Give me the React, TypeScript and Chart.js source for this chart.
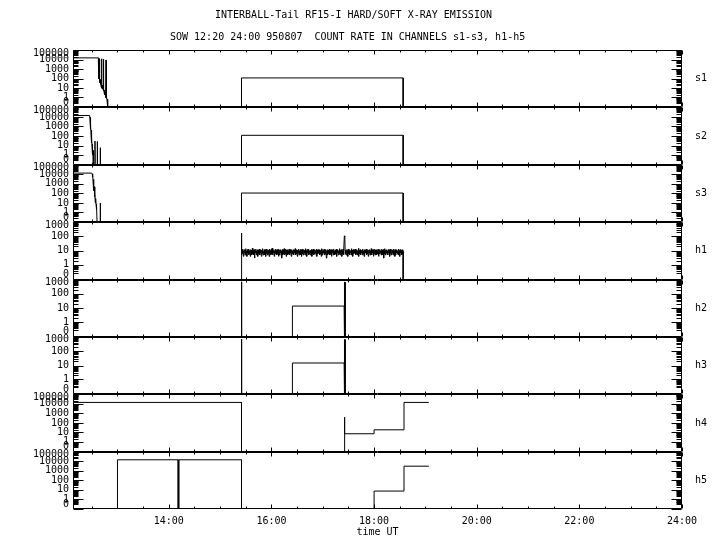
import React, { useEffect, useRef } from 'react';
import { Chart, registerables, LinearScale } from 'chart.js';

Chart.register(...registerables);

// ---------------- data ----------------
const titleLine1 = 'INTERBALL-Tail RF15-I HARD/SOFT X-RAY EMISSION';
const titleLine2 = 'SOW 12:20 24:00 950807  COUNT RATE IN CHANNELS s1-s3, h1-h5';
const xTitle = 'time UT';

const panelNames = ['s1', 's2', 's3', 'h1', 'h2', 'h3', 'h4', 'h5'];
const panelMax = [100000, 100000, 100000, 1000, 1000, 1000, 100000, 100000];

// time axis in minutes of day
const xMin = 728;
const xMax = 1440;
const xMajorTicks = [840, 960, 1080, 1200, 1320, 1440];
const xMinorTicks = [750, 780, 810, 870, 900, 930, 990, 1020, 1050, 1110, 1140, 1170, 1230, 1260, 1290, 1350, 1380, 1410];

// s1
const s1T = [728, 757.6, 757.8, 758.0, 758.3, 758.5, 758.8, 759.1, 759.4, 759.7, 760.0, 760.4, 760.8, 761.2, 761.6, 761.9, 762.3, 762.7, 763.1, 763.4, 763.7, 764.1, 764.5, 764.9, 765.3, 765.7, 766.1, 766.6, 766.9, 767.3, 767.8, 768.3, 768.9, 925, 925, 1114, 1114];
const s1V = [15000, 15000, 300, 14000, 100, 12000, 60, 5000, 40, 80, 25, 50, 15, 30, 12000, 10, 20, 8, 15, 11000, 5, 10, 3, 6, 2, 4, 1, 9000, 0.8, 1.5, 0.4, 0.6, 0, 0, 120, 120, 0];
// s2
const s2T = [728, 747.1, 747.5, 747.9, 748.2, 748.5, 748.8, 749.1, 749.4, 749.7, 750.0, 750.3, 750.6, 751.0, 751.4, 751.8, 753.7, 753.7, 753.9, 756.4, 756.4, 756.6, 759.9, 759.9, 760.1, 925, 925, 1114, 1114];
const s2V = [14000, 14000, 13000, 3000, 9000, 500, 2000, 100, 400, 20, 80, 5, 15, 1, 3, 0, 0, 30, 0, 0, 27, 0, 0, 6, 0, 0, 120, 120, 0];
// s3
const s3T = [728, 749.9, 750.4, 750.8, 751.2, 751.6, 752.0, 752.4, 752.8, 753.2, 753.7, 754.1, 754.5, 754.9, 755.3, 755.7, 756.1, 759.9, 759.9, 760.1, 925, 925, 1114, 1114];
const s3V = [13400, 13400, 11000, 5000, 8000, 1000, 3000, 200, 500, 40, 90, 10, 30, 8, 2, 5, 0, 0, 10, 0, 0, 110, 110, 0];
// h1 (edges + half-minute band)
const h1LeadT = [728, 925, 925];
const h1LeadV = [0, 0, 174];
const h1BandStart = 925.25;
const h1BandStep = 0.5;
const h1BandV = [
  5, 11, 6, 13, 4, 10, 7, 12, 5, 14, 6, 9, 4, 12, 7, 11, 5, 13, 6, 10,
  4, 12, 7, 11, 5, 15, 6, 10, 5, 12, 3, 11, 7, 13, 5, 10, 6, 12, 4, 11,
  6, 13, 5, 10, 7, 12, 4, 11, 6, 14, 5, 9, 7, 12, 5, 11, 4, 13, 6, 10,
  5, 12, 6, 11, 4, 13, 7, 10, 5, 12, 6, 15, 5, 11, 7, 12, 4, 10, 6, 13,
  7, 11, 5, 12, 6, 10, 4, 13, 5, 11, 7, 12, 6, 10, 3, 12, 5, 11, 6, 14,
  5, 10, 6, 13, 4, 11, 7, 12, 5, 10, 6, 13, 5, 12, 7, 11, 4, 12, 6, 10,
  6, 12, 5, 11, 7, 14, 5, 10, 6, 12, 4, 11, 7, 13, 5, 10, 6, 12, 5, 11,
  4, 13, 6, 10, 5, 12, 7, 11, 5, 14, 6, 10, 4, 12, 7, 11, 5, 13, 6, 10,
  5, 11, 7, 12, 4, 10, 6, 13, 5, 11, 6, 12, 7, 10, 5, 13, 4, 11, 6, 12,
  7, 10, 5, 12, 6, 11, 4, 14, 5, 12, 6, 10, 7, 13, 5, 11, 6, 12, 3, 10,
  5, 12, 6, 11, 7, 13, 5, 10, 6, 12, 4, 11, 7, 12, 5, 13, 6, 10, 5, 11,
  6, 13, 4, 11, 7, 12, 5, 10, 6, 14, 5, 11, 7, 12, 4, 10, 6, 13, 5, 11,
  110, 100, 6, 11, 5, 12, 7, 10, 4, 13, 6, 11, 5, 12, 7, 10, 5, 14, 6, 11,
  4, 12, 6, 10, 7, 13, 5, 11, 6, 12, 5, 10, 7, 15, 4, 11, 6, 12, 5, 10,
  7, 11, 5, 13, 6, 10, 4, 12, 6, 11, 7, 13, 5, 10, 6, 12, 4, 11, 7, 12,
  5, 10, 6, 14, 5, 11, 7, 12, 4, 10, 6, 13, 5, 11, 7, 12, 5, 10, 6, 13,
  4, 11, 6, 12, 7, 10, 5, 13, 6, 11, 5, 12, 3, 10, 6, 14, 5, 11, 7, 12,
  6, 10, 5, 12, 7, 11, 4, 13, 6, 10, 5, 12, 7, 11, 5, 13, 6, 10, 4, 12,
  5, 11, 7, 12, 6, 10, 5, 13, 6, 11, 4, 12, 7, 10, 5, 11, 6, 12,
];
const h1TailT = [1114, 1114];
const h1TailV = [9, 0];
// h2
const h2T = [728, 925, 925, 925.3, 984.5, 984.5, 1045, 1045, 1045.4, 1045.8, 1046.2, 1046.2];
const h2V = [0, 0, 700, 0, 0, 14, 14, 650, 0, 650, 650, 0];
// h3
const h3T = [728, 925, 925, 925.3, 984.5, 984.5, 1045, 1045, 1045.4, 1045.8, 1046.2, 1046.2];
const h3V = [0, 0, 700, 0, 0, 15, 15, 650, 0, 650, 650, 0];
// h4
const h4T = [728, 925, 925, 1045, 1045, 1045.5, 1045.8, 1046, 1080, 1080, 1115, 1115, 1144];
const h4V = [14000, 14000, 0, 0, 400, 0, 400, 7.3, 7.3, 19, 19, 14000, 14000];
// h5
const h5T = [728, 780, 780, 851, 851, 852, 852, 925, 925, 1080, 1080, 1115, 1115, 1144];
const h5V = [0, 0, 14000, 14000, 0, 0, 14000, 14000, 0, 0, 7.4, 7.4, 3000, 3000];

// ---------------- helpers ----------------
const OFFSET = 0.1;
const tf = (v: number) => Math.log10(Math.max(v, 0) + OFFSET);

class CountScale extends LinearScale {
  static id = 'countlog';
  static defaults = {};
  buildTicks() {
    const ticks: any[] = [{ value: 0 }];
    for (let v = 1; v <= this.max * 1.0001; v *= 10) ticks.push({ value: v });
    return ticks;
  }
  getPixelForValue(value: number) {
    const a = tf(this.min), b = tf(this.max);
    return this.getPixelForDecimal((tf(value) - a) / (b - a));
  }
  getValueForPixel(pixel: number) {
    const a = tf(this.min), b = tf(this.max);
    return Math.pow(10, a + this.getDecimalForPixel(pixel) * (b - a)) - OFFSET;
  }
}
Chart.register(CountScale as any);

const zip = (t: number[], v: number[]) => t.map((x, i) => ({ x, y: v[i] }));

const seriesData = [
  zip(s1T, s1V),
  zip(s2T, s2V),
  zip(s3T, s3V),
  [
    ...zip(h1LeadT, h1LeadV),
    ...h1BandV.map((y, i) => ({ x: h1BandStart + i * h1BandStep, y })),
    ...zip(h1TailT, h1TailV),
  ],
  zip(h2T, h2V),
  zip(h3T, h3V),
  zip(h4T, h4V),
  zip(h5T, h5V),
];

const FONT = "'DejaVu Sans Mono', monospace";

const fmtTime = (m: number) => {
  const h = Math.floor(m / 60);
  const mm = Math.round(m - h * 60);
  return `${h}:${mm < 10 ? '0' : ''}${mm}`;
};

const framePlugin = {
  id: 'framePlugin',
  afterDatasetsDraw(chart: any) {
    const ctx = chart.ctx as CanvasRenderingContext2D;
    const ca = chart.chartArea;
    const xs = chart.scales.x;
    const L = Math.round(ca.left) + 0.5;
    const R = Math.round(ca.right) - 0.5;
    ctx.save();
    ctx.strokeStyle = '#000';
    ctx.fillStyle = '#000';
    ctx.lineWidth = 1;
    panelNames.forEach((name, i) => {
      const sc = chart.scales['y' + i];
      const T = Math.round(sc.top) + 0.5;
      const B = Math.round(sc.bottom) - 0.5;
      ctx.beginPath();
      ctx.moveTo(L, T); ctx.lineTo(R, T); ctx.lineTo(R, B); ctx.lineTo(L, B); ctx.closePath();
      // y ticks
      const majors = sc.ticks.map((t: any) => t.value);
      majors.forEach((v: number) => {
        const y = Math.round(sc.getPixelForValue(v)) + 0.5;
        ctx.moveTo(L, y); ctx.lineTo(L + 10, y);
        ctx.moveTo(R, y); ctx.lineTo(R - 10, y);
      });
      for (let d = 0.1; d < sc.max; d *= 10) {
        for (let m = 2; m <= 9; m++) {
          const y = Math.round(sc.getPixelForValue(m * d)) + 0.5;
          ctx.moveTo(L, y); ctx.lineTo(L + 5, y);
          ctx.moveTo(R, y); ctx.lineTo(R - 5, y);
        }
      }
      // x ticks on top & bottom of each panel
      xMajorTicks.forEach((t) => {
        const x = Math.round(xs.getPixelForValue(t)) + 0.5;
        ctx.moveTo(x, T); ctx.lineTo(x, T + 4);
        ctx.moveTo(x, B); ctx.lineTo(x, B - 4);
      });
      xMinorTicks.forEach((t) => {
        const x = Math.round(xs.getPixelForValue(t)) + 0.5;
        ctx.moveTo(x, T); ctx.lineTo(x, T + 2);
        ctx.moveTo(x, B); ctx.lineTo(x, B - 2);
      });
      ctx.stroke();
      // y tick labels (kept inside the panel at its ends)
      ctx.font = `10px ${FONT}`;
      ctx.textAlign = 'right';
      ctx.textBaseline = 'middle';
      majors.forEach((v: number) => {
        let y = sc.getPixelForValue(v);
        y = Math.min(Math.max(y, sc.top + 3), sc.bottom - 5);
        ctx.fillText(String(v), ca.left - 4, y);
      });
      // right label
      ctx.textAlign = 'left';
      ctx.fillText(name, ca.right + 13, (sc.top + sc.bottom) / 2);
    });
    // titles
    ctx.font = `10px ${FONT}`;
    ctx.textAlign = 'left';
    ctx.textBaseline = 'middle';
    ctx.fillText(titleLine1, 215, 15);
    ctx.fillText(titleLine2, 170, 37);
    ctx.restore();
  },
};

export default function App() {
  const ref = useRef<HTMLCanvasElement>(null);
  useEffect(() => {
    if (!ref.current) return;
    Chart.defaults.font.family = FONT;
    Chart.defaults.font.size = 10;
    Chart.defaults.color = '#000';
    const scales: any = {
      x: {
        type: 'linear',
        position: 'bottom',
        min: xMin,
        max: xMax,
        grid: { display: false, drawTicks: false },
        border: { display: false },
        afterBuildTicks: (s: any) => { s.ticks = xMajorTicks.map((v) => ({ value: v })); },
        ticks: { autoSkip: false, maxRotation: 0, padding: 6, callback: (v: any) => fmtTime(Number(v)), color: '#000', font: { size: 10, family: FONT } },
        title: { display: true, text: xTitle, color: '#000', font: { size: 10, family: FONT }, padding: { top: 0, bottom: 12 } },
        afterFit: (s: any) => { s.height = 41; },
      },
    };
    panelNames.forEach((n, i) => {
      scales['y' + i] = {
        type: 'countlog',
        position: 'left',
        stack: 'panels',
        stackWeight: 1,
        weight: 8 - i,
        min: 0,
        max: panelMax[i],
        grid: { display: false, drawTicks: false },
        border: { display: false },
        ticks: { display: false, autoSkip: false },
        afterFit: (s: any) => { s.width = 73; },
      };
    });
    const chart = new Chart(ref.current, {
      type: 'line',
      data: {
        datasets: seriesData.map((d, i) => ({
          data: d,
          xAxisID: 'x',
          yAxisID: 'y' + i,
          borderColor: '#000',
          borderWidth: 1,
          pointRadius: 0,
          fill: false,
          tension: 0,
          clip: 0,
        })),
      },
      options: {
        responsive: false,
        animation: false,
        events: [],
        parsing: false,
        layout: { padding: { top: 50, right: 38, bottom: 0, left: 0 } },
        plugins: { legend: { display: false }, tooltip: { enabled: false }, title: { display: false } },
        scales,
      } as any,
      plugins: [framePlugin],
    });
    return () => chart.destroy();
  }, []);
  return (
    <div style={{ position: 'fixed', left: 0, top: 0, width: 720, height: 550, background: '#fff' }}>
      <canvas ref={ref} width={720} height={550} />
    </div>
  );
}
